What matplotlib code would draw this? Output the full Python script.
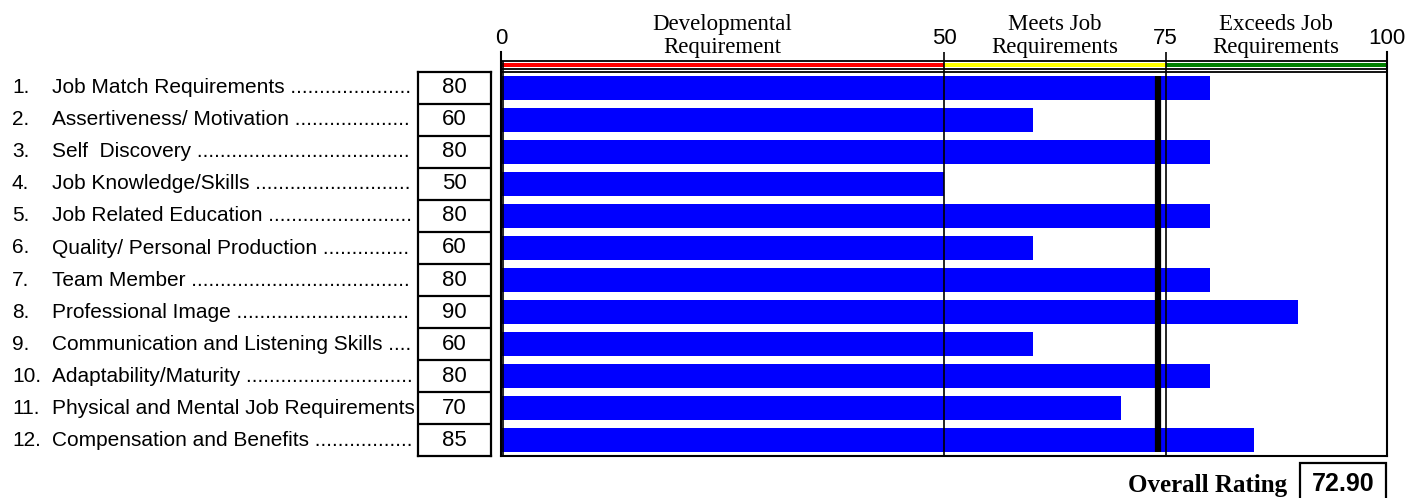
import matplotlib.pyplot as plt
from matplotlib.patches import Rectangle

# data
categories = [
    'Job Match Requirements',
    'Assertiveness/ Motivation',
    'Self  Discovery',
    'Job Knowledge/Skills',
    'Job Related Education',
    'Quality/ Personal Production',
    'Team Member',
    'Professional Image',
    'Communication and Listening Skills',
    'Adaptability/Maturity',
    'Physical and Mental Job Requirements',
    'Compensation and Benefits',
]
scores = [80, 60, 80, 50, 80, 60, 80, 90, 60, 80, 70, 85]
zone_edges = [0, 50, 75, 100]
zone_names = [['Developmental', 'Requirement'],
              ['Meets Job', 'Requirements'],
              ['Exceeds Job', 'Requirements']]
zone_colors = ['#ff0000', '#ffff00', '#008000']
marker_value = 74.2
overall = '72.90'

W, H = 1408, 498
SANS = 'Liberation Sans'
SERIF = 'Liberation Serif'


def px_axes(fig, l, t, r, b):
    return fig.add_axes([l / W, 1 - b / H, (r - l) / W, (b - t) / H])


fig = plt.figure(figsize=(W / 100, H / 100), dpi=100)
n = len(categories)
rows = list(range(n))

# main bar chart
ax = px_axes(fig, 501, 52, 1387, 456)
ax.barh(rows, scores, height=0.75, color='#0000ff', zorder=2)
ax.set_xlim(0, 100)
ax.set_ylim(n - 0.5, -1.125)

# header band
for i in range(3):
    ax.barh(-0.72, zone_edges[i + 1] - zone_edges[i], left=zone_edges[i],
            height=0.15, color=zone_colors[i], zorder=2)
    xc = (zone_edges[i] + zone_edges[i + 1]) / 2
    ax.text(xc, -1.82, zone_names[i][0], ha='center', va='baseline',
            family=SERIF, fontsize=16.5)
    ax.text(xc, -1.1, zone_names[i][1], ha='center', va='baseline',
            family=SERIF, fontsize=16.5)
for yy in [-0.84375, -0.59375, -0.5]:
    ax.hlines(yy, 0, 100, color='black', lw=1.3, zorder=3)

for xv in [50, 75]:
    ax.axvline(xv, color='black', lw=1.2, zorder=3)
ax.vlines(0.25, -0.84, n - 0.5, color='black', lw=1.2, zorder=3)
ax.vlines(marker_value, -0.375, n - 1 + 0.375, color='black', lw=4.5, zorder=4)

ax.spines['top'].set_visible(False)
for s in ['left', 'right', 'bottom']:
    ax.spines[s].set_linewidth(1.5)
ax.xaxis.set_ticks_position('top')
ax.set_xticks(zone_edges)
ax.set_xticklabels([str(v) for v in zone_edges], family=SANS, fontsize=16)
ax.tick_params(axis='x', length=0, pad=2)
ax.set_yticks([])

# value boxes
vax = px_axes(fig, 418, 72, 491, 456)
vax.set_xlim(0, 1)
vax.set_ylim(n - 0.5, -0.5)
for i, v in enumerate(scores):
    vax.text(0.5, i, str(v), ha='center', va='center', family=SANS, fontsize=16)
    if i < n - 1:
        vax.axhline(i + 0.5, color='black', lw=1.6)
for s in vax.spines.values():
    s.set_linewidth(1.6)
vax.set_xticks([])
vax.set_yticks([])

# labels with dot leaders, trimmed to fit before the value boxes
lax = px_axes(fig, 0, 72, 414, 456)
lax.set_xlim(0, 414)
lax.set_ylim(n - 0.5, -0.5)
lax.axis('off')
renderer = fig.canvas.get_renderer()
for i, name in enumerate(categories):
    lax.text(12, i, f'{i + 1}.', ha='left', va='center', family=SANS, fontsize=15)
    t = lax.text(52, i, name + ' ' + '.' * 80, ha='left', va='center',
                 family=SANS, fontsize=15, clip_on=True)
    dots = 80
    while dots > 0 and t.get_window_extent(renderer).x1 > 414:
        dots -= 1
        t.set_text(name + ' ' + '.' * dots)
    if dots == 0:
        t.set_text(name)

# overall rating
fig.text(1287 / W, 1 - 492 / H, 'Overall Rating', ha='right', va='baseline',
         family=SERIF, fontweight='bold', fontsize=18)
fig.patches.append(Rectangle((1300 / W, -0.05), 86 / W, (498 - 463) / H + 0.05,
                             transform=fig.transFigure, fill=False,
                             edgecolor='black', lw=1.6))
fig.text(1343 / W, 1 - 491 / H, overall, ha='center', va='baseline',
         family=SANS, fontweight='bold', fontsize=18)

fig.savefig('out.png', dpi=100)
